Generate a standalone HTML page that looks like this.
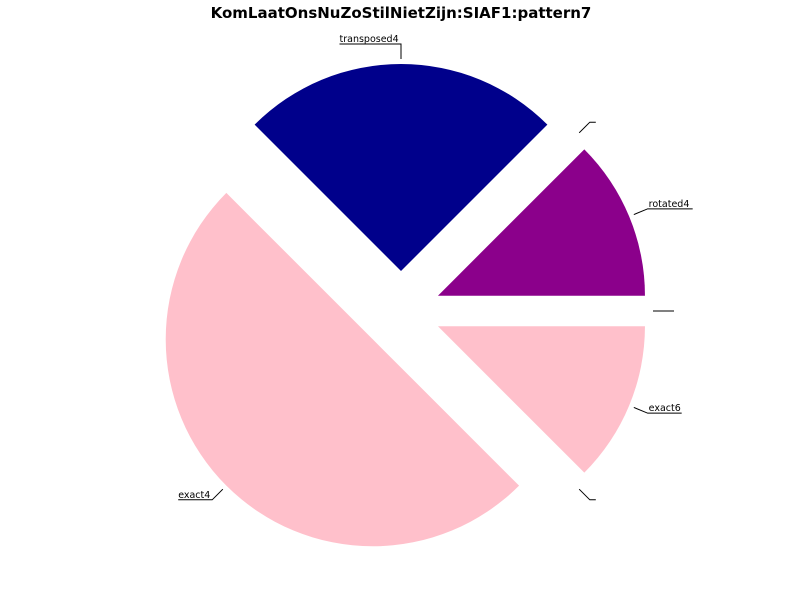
<!DOCTYPE html>
<html><head><meta charset="utf-8"><style>
body{margin:0;background:#fff;}
text{font-family:"DejaVu Sans","Liberation Sans",sans-serif;}
</style></head><body>
<svg id="chart" width="800" height="600">
<text x="401" y="18" text-anchor="middle" font-size="15" font-weight="bold">KomLaatOnsNuZoStilNietZijn:SIAF1:pattern7</text>
</svg>
<script>
const labels = ["", "rotated4", "", "transposed4", "exact4", "", "exact6"];
const values = [0, 1, 0, 2, 4, 0, 1];
const colors = ["#FFC0CB", "#8B008B", "#FFC0CB", "#00008B", "#FFC0CB", "#FFC0CB", "#FFC0CB"];
const svg = document.getElementById('chart');
const NS = 'http://www.w3.org/2000/svg';
const cx = 401, cy = 311, r = 207, d = 40;
const total = values.reduce((a, b) => a + b, 0);
let start = 0;
values.forEach((v, i) => {
  const sweep = v / total * 2 * Math.PI;
  const mid = start + sweep / 2;
  const ux = Math.cos(mid), uy = -Math.sin(mid);
  const ox = cx + d * ux, oy = cy + d * uy;
  if (v > 0) {
    const x1 = ox + r * Math.cos(start), y1 = oy - r * Math.sin(start);
    const x2 = ox + r * Math.cos(start + sweep), y2 = oy - r * Math.sin(start + sweep);
    const large = sweep > Math.PI ? 1 : 0;
    const p = document.createElementNS(NS, 'path');
    p.setAttribute('d', `M${ox},${oy} L${x1},${y1} A${r},${r} 0 ${large} 0 ${x2},${y2} Z`);
    p.setAttribute('fill', colors[i]);
    
    
    svg.appendChild(p);
  }
  const sx = cx + (d + r + 5) * ux, sy = cy + (d + r + 5) * uy;
  const ex = cx + (d + r + 20) * ux, ey = cy + (d + r + 20) * uy;
  const right = ux > 0.01;
  const tw = labels[i] ? labels[i].length * 5.5 + 1 : 6;
  const hx = right ? ex + tw : ex - tw;
  const pl = document.createElementNS(NS, 'polyline');
  pl.setAttribute('points', `${sx},${sy} ${ex},${ey} ${hx},${ey}`);
  pl.setAttribute('fill', 'none');
  pl.setAttribute('stroke', '#000');
  pl.setAttribute('stroke-width', '1');
  
  
  svg.appendChild(pl);
  if (labels[i]) {
    const t = document.createElementNS(NS, 'text');
    t.setAttribute('x', right ? ex + 1 : hx);
    t.setAttribute('y', ey - 2);
    t.setAttribute('font-size', '9.5');
    t.textContent = labels[i];
    
    
    svg.appendChild(t);
  }
  start += sweep;
});
</script>
</body></html>
